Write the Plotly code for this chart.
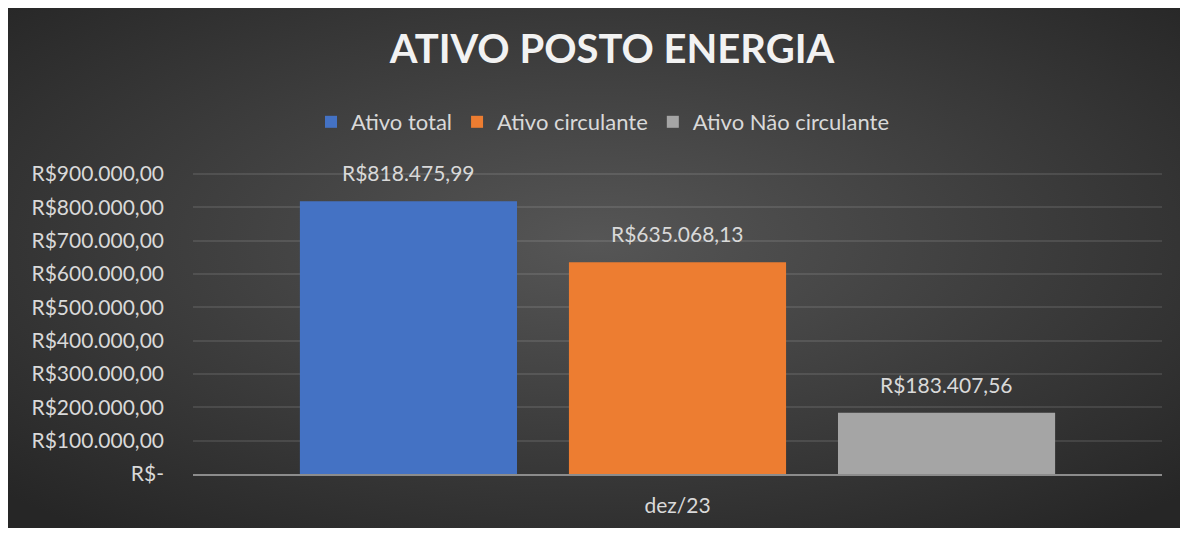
import plotly.graph_objects as go
import urllib.parse

categories = ["dez/23"]
series_names = ["Ativo total", "Ativo circulante", "Ativo Não circulante"]
series_values = [[818475.99], [635068.13], [183407.56]]
value_labels = ["R$818.475,99", "R$635.068,13", "R$183.407,56"]
colors = ["#4472C4", "#ED7D31", "#A5A5A5"]
tick_vals = [0, 100000, 200000, 300000, 400000, 500000, 600000, 700000, 800000, 900000]
tick_text = ["R$-", "R$100.000,00", "R$200.000,00", "R$300.000,00", "R$400.000,00",
             "R$500.000,00", "R$600.000,00", "R$700.000,00", "R$800.000,00", "R$900.000,00"]

FONT = "Lato"
TXT = "#D9D9D9"
W, H = 1174, 520
L, R, T, B = 185, 20, 160, 54
BARGAP = 0.167

fig = go.Figure()
for name, vals, col in zip(series_names, series_values, colors):
    fig.add_trace(go.Bar(
        x=categories, y=vals, name=name,
        marker=dict(color=col, line=dict(width=0)),
    ))

# data labels above each bar (position through the category axis index)
n = len(series_names)
slot = (1 - BARGAP) / n
for i, (vals, lab) in enumerate(zip(series_values, value_labels)):
    fig.add_annotation(x=(i - (n - 1) / 2) * slot, y=vals[0], xref="x", yref="y",
                       text=lab, showarrow=False, yanchor="bottom", yshift=14,
                       font=dict(family=FONT, size=21, color=TXT))

svg = ('<svg xmlns="http://www.w3.org/2000/svg" width="1174" height="520" viewBox="0 0 1174 520" preserveAspectRatio="none">'
       '<defs><radialGradient id="g" cx="50%" cy="45%" r="70%">'
       '<stop offset="0%" stop-color="#565656"/><stop offset="100%" stop-color="#262626"/>'
       '</radialGradient></defs><rect width="1174" height="520" fill="url(#g)"/></svg>')
src = "data:image/svg+xml;charset=utf-8," + urllib.parse.quote(svg)

PW, PH = W - L - R, H - T - B
def px(x): return (x - L) / PW
def py(y): return (H - B - y) / PH

fig.add_layout_image(dict(
    source=src, xref="paper", yref="paper",
    x=px(0), y=py(0), sizex=px(W) - px(0), sizey=py(0) - py(H),
    sizing="stretch", xanchor="left", yanchor="top", layer="below",
))

fig.update_layout(
    width=W, height=H,
    margin=dict(l=L, r=R, t=T, b=B),
    paper_bgcolor="#3a3a3a", plot_bgcolor="rgba(0,0,0,0)",
    barmode="group", bargap=BARGAP, bargroupgap=0.193,
    title=dict(text="<b>ATIVO POSTO ENERGIA</b>", x=604 / W, xanchor="center",
               y=1 - 41 / H, yanchor="middle",
               font=dict(family=FONT, size=40, color="#F2F2F2")),
    legend=dict(orientation="h", x=px(595), xanchor="center", y=py(114), yanchor="middle",
                font=dict(family=FONT, size=22, color=TXT), bgcolor="rgba(0,0,0,0)",
                itemwidth=30, tracegroupgap=0),
    showlegend=True,
    font=dict(family=FONT, color=TXT),
)
fig.update_yaxes(range=[0, 900000 * PH / 300], tickvals=tick_vals, ticktext=tick_text,
                 showgrid=True, gridcolor="rgba(255,255,255,0.10)", gridwidth=1.5,
                 zeroline=False, showline=False, ticks="",
                 ticklabelstandoff=28,
                 tickfont=dict(family=FONT, size=21, color=TXT))
fig.update_xaxes(showgrid=False, showline=True, linecolor="#8C8C8C", linewidth=2,
                 ticks="", tickfont=dict(family=FONT, size=21, color=TXT),
                 ticklabelstandoff=12)

fig.write_html("out.html")
